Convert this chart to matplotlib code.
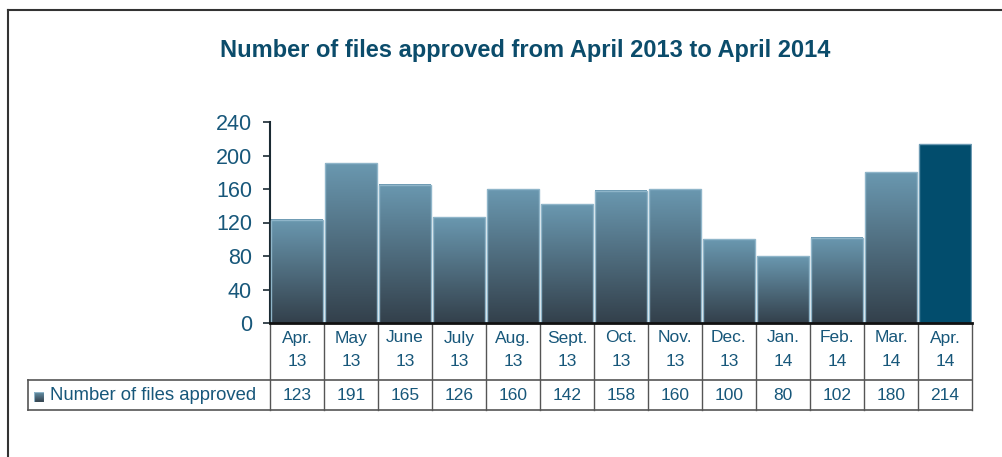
import numpy as np
import matplotlib.pyplot as plt
import matplotlib.transforms as mtransforms
from matplotlib.lines import Line2D

plt.rcParams['font.family'] = ['Liberation Sans', 'DejaVu Sans']

# Dados
months = ['Apr.', 'May', 'June', 'July', 'Aug.', 'Sept.', 'Oct.', 'Nov.', 'Dec.', 'Jan.', 'Feb.', 'Mar.', 'Apr.']
years = ['13', '13', '13', '13', '13', '13', '13', '13', '13', '14', '14', '14', '14']
approved = [123, 191, 165, 126, 160, 142, 158, 160, 100, 80, 102, 180, 214]
series_name = 'Number of files approved'
title = 'Number of files approved from April 2013 to April 2014'
yticks = [0, 40, 80, 120, 160, 200, 240]

txt_color = '#17577a'
title_color = '#0b4c6b'
grid_color = '#555555'

fig = plt.figure(figsize=(10.02, 4.57), dpi=100)
ax = fig.add_axes([270 / 1002, 1 - 323 / 457, 702 / 1002, 201 / 457])

x = np.arange(len(approved))
bars = ax.bar(x, approved, width=0.95, color='none', edgecolor='#8fb5c9', linewidth=1, zorder=3)

# Gradiente de cada barra (claro em cima, escuro embaixo)
top = np.array([0x6a, 0x98, 0xb0]) / 255
bottom = np.array([0x33, 0x40, 0x4b]) / 255
t = np.linspace(0, 1, 256)[:, None]
grad = (top * (1 - t) + bottom * t)[:, None, :]
for i, rect in enumerate(bars):
    x0, w, h = rect.get_x(), rect.get_width(), rect.get_height()
    if i == len(bars) - 1:
        rect.set_facecolor('#024d6d')
        rect.set_edgecolor('#6d9ab3')
        continue
    ax.imshow(grad, extent=[x0, x0 + w, 0, h], aspect='auto', zorder=2, interpolation='bilinear')

ax.set_xlim(-0.5, len(approved) - 0.5)
ax.set_ylim(0, 240)
ax.set_yticks(yticks)
ax.set_xticks([])
ax.tick_params(axis='y', labelsize=15.5, labelcolor=txt_color, color='#1a2a33', length=5, width=1.2, pad=8)
for s in ['top', 'right']:
    ax.spines[s].set_visible(False)
ax.spines['left'].set_color('#1a2a33')
ax.spines['left'].set_linewidth(1.5)
ax.spines['bottom'].set_color('#111111')
ax.spines['bottom'].set_linewidth(2)
ax.spines['bottom'].set_zorder(5)

fig.text(525 / 1002, 1 - 50 / 457, title, fontsize=17, fontweight='bold', color=title_color,
         ha='center', va='center')

# Tabela de dados abaixo do eixo
tr = mtransforms.blended_transform_factory(ax.transData, ax.transAxes)
y1 = -57 / 201
y2 = -87 / 201
xl = -0.5 - 242 / 54
n = len(approved)
for i in range(n + 1):
    ax.add_line(Line2D([i - 0.5, i - 0.5], [0, y2], transform=tr, color=grid_color, lw=1, clip_on=False))
ax.add_line(Line2D([xl, n - 0.5], [y1, y1], transform=tr, color=grid_color, lw=1.2, clip_on=False))
ax.add_line(Line2D([xl, n - 0.5], [y2, y2], transform=tr, color=grid_color, lw=1.2, clip_on=False))
ax.add_line(Line2D([xl, xl], [y1, y2], transform=tr, color=grid_color, lw=1.2, clip_on=False))

for i in range(n):
    ax.text(i, -15 / 201, months[i], transform=tr, ha='center', va='center', fontsize=12.5, color=txt_color)
    ax.text(i, -39 / 201, years[i], transform=tr, ha='center', va='center', fontsize=12.5, color=txt_color)
    ax.text(i, (y1 + y2) / 2, str(approved[i]), transform=tr, ha='center', va='center', fontsize=12.5, color=txt_color)

# Legenda dentro da tabela
lax = fig.add_axes([34 / 1002, 1 - 402 / 457, 10 / 1002, 10 / 457])
lax.imshow(grad, aspect='auto', extent=[0, 1, 0, 1])
lax.set_axis_off()
lax.add_patch(plt.Rectangle((0, 0), 1, 1, fill=False, edgecolor='#8fb5c9', lw=0.8))
ax.text(xl + 22 / 54, (y1 + y2) / 2, series_name, transform=tr, ha='left', va='center', fontsize=13.3, color=txt_color)

# Moldura externa
fig.add_artist(Line2D([8 / 1002, 1], [1 - 10 / 457, 1 - 10 / 457], color='#333333', lw=1.5))
fig.add_artist(Line2D([8 / 1002, 8 / 1002], [0, 1 - 10 / 457], color='#333333', lw=1.5))

fig.savefig('out.png', dpi=100)
